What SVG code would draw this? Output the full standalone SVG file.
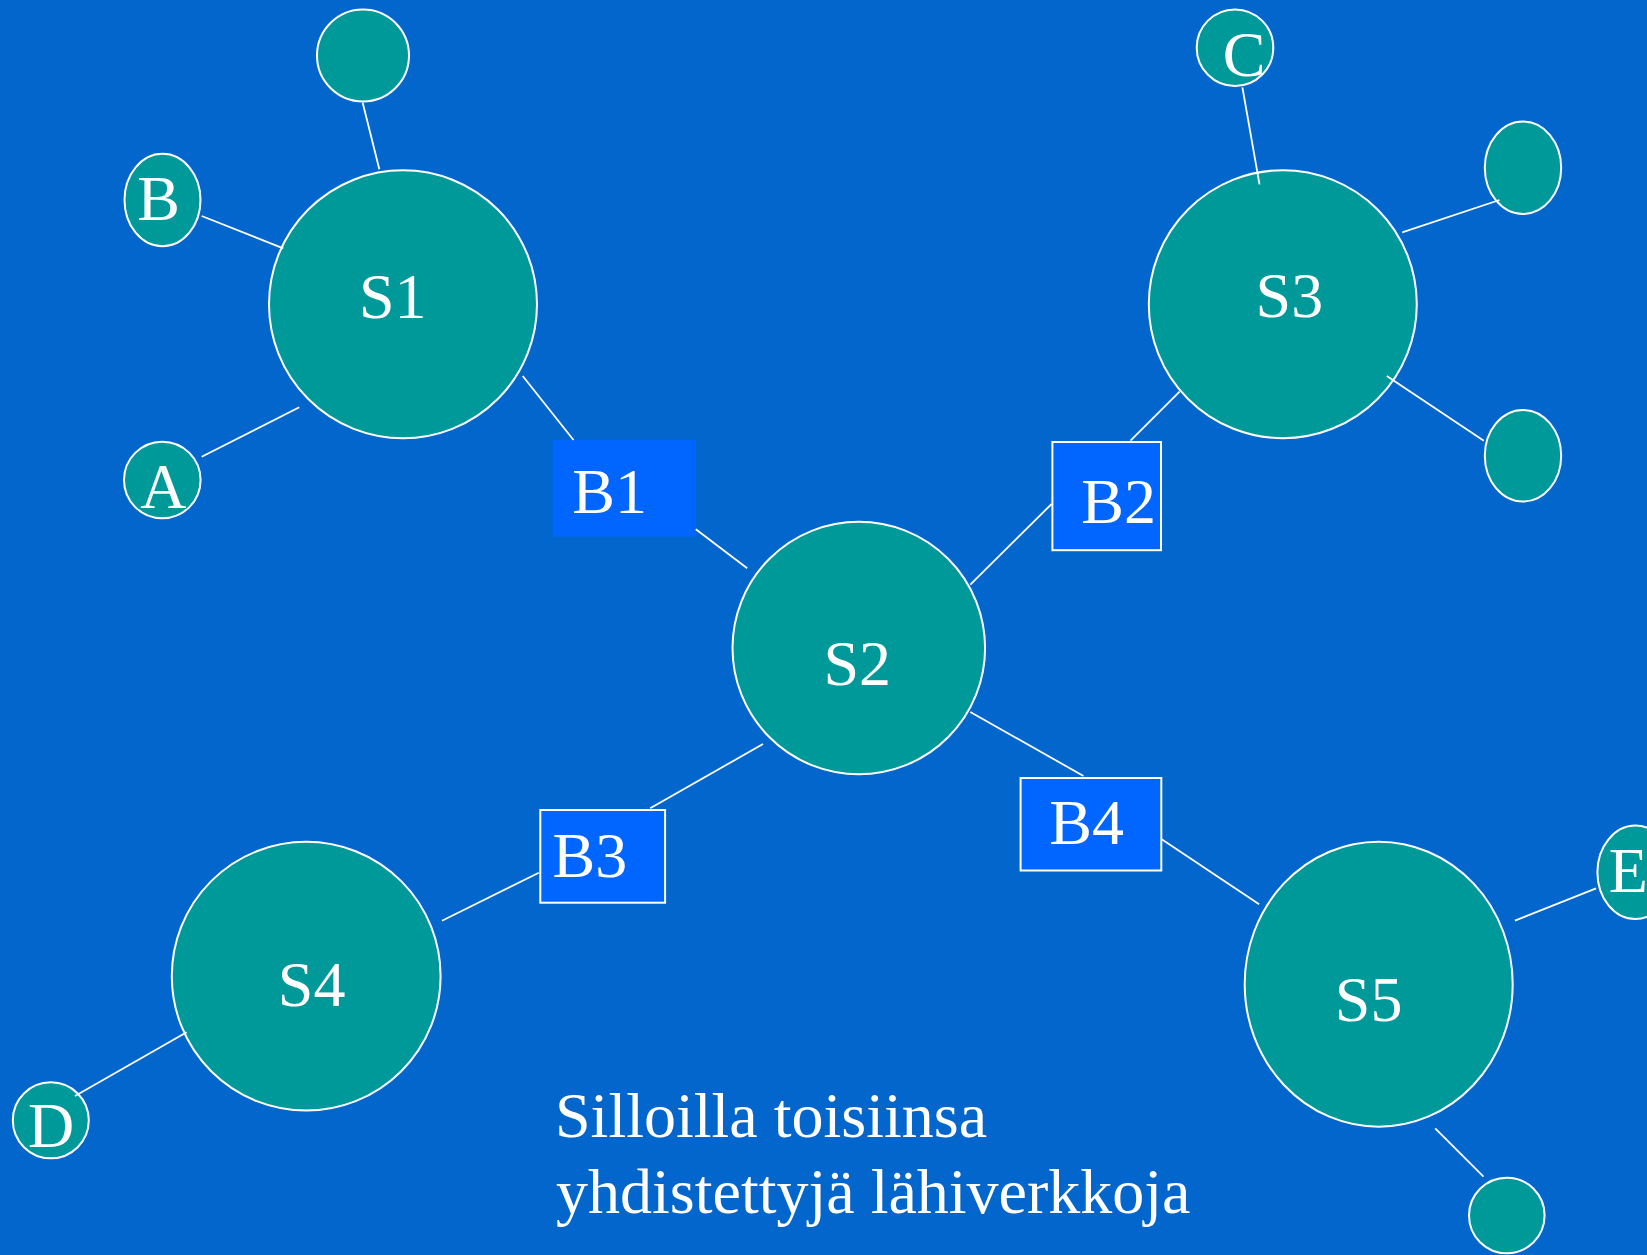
<svg xmlns="http://www.w3.org/2000/svg" width="1647" height="1255" viewBox="0 0 1647 1255">
  <style>
    .seg { fill: #009999; stroke: #ffffff; stroke-width: 2; }
    .host { fill: #009999; stroke: #ffffff; stroke-width: 2; }
    .bridge { fill: #0066ff; }
    .bridge.framed { stroke: #ffffff; stroke-width: 2; }
    .lbl { font-family: "Liberation Serif", "Times New Roman", serif; font-size: 64px; fill: #ffffff; }
    .wire { stroke: #ffffff; stroke-width: 1.8; fill: none; }
  </style>
  <rect x="0" y="0" width="1647" height="1255" fill="#0366cc"/>

  <!-- segments -->
  <g id="S1"><circle class="seg" cx="403" cy="304.3" r="134"/><text class="lbl" x="359" y="318">S1</text></g>
  <g id="S2"><circle class="seg" cx="858.8" cy="648" r="126.3"/><text class="lbl" x="823.5" y="685">S2</text></g>
  <g id="S3"><circle class="seg" cx="1282.8" cy="304.2" r="134"/><text class="lbl" x="1255.6" y="316.7">S3</text></g>
  <g id="S4"><circle class="seg" cx="306.2" cy="976.2" r="134.4"/><text class="lbl" x="277.8" y="1005.7">S4</text></g>
  <g id="S5"><ellipse class="seg" cx="1378.7" cy="984.2" rx="134" ry="142.5"/><text class="lbl" x="1334.8" y="1020.7">S5</text></g>

  <!-- bridges -->
  <g id="B1"><rect class="bridge" x="552.7" y="440" width="143.3" height="96.7"/><text class="lbl" x="572.3" y="512.5">B1</text></g>
  <g id="B2"><rect class="bridge framed" x="1052.4" y="442" width="108.6" height="108.2"/><text class="lbl" x="1081.2" y="523">B2</text></g>
  <g id="B3"><rect class="bridge framed" x="540.3" y="810" width="124.8" height="92.7"/><text class="lbl" x="552.5" y="876.7">B3</text></g>
  <g id="B4"><rect class="bridge framed" x="1020.6" y="778" width="140.7" height="92.5"/><text class="lbl" x="1049.2" y="844">B4</text></g>

  <!-- hosts -->
  <g id="host-S1-top"><circle class="host" cx="363" cy="55.5" r="46"/></g>
  <g id="B"><ellipse class="host" cx="162.5" cy="200" rx="38" ry="46.3"/><text class="lbl" x="137.2" y="220">B</text></g>
  <g id="A"><circle class="host" cx="162.3" cy="480" r="38.3"/><text class="lbl" x="140.2" y="508.3">A</text></g>
  <g id="C"><circle class="host" cx="1235" cy="47.7" r="38.3"/><text class="lbl" x="1222.8" y="76">C</text></g>
  <g id="host-S3-upper"><ellipse class="host" cx="1523" cy="167.8" rx="38.2" ry="46.2"/></g>
  <g id="host-S3-lower"><ellipse class="host" cx="1523" cy="455.8" rx="38.2" ry="45.8"/></g>
  <g id="D"><circle class="host" cx="50.8" cy="1120.3" r="38"/><text class="lbl" x="28" y="1146.5">D</text></g>
  <g id="E"><ellipse class="host" cx="1635.4" cy="872.3" rx="38" ry="46.7"/><text class="lbl" x="1608.8" y="891.7">E</text></g>
  <g id="host-S5-bottom"><circle class="host" cx="1506.8" cy="1215.5" r="37.8"/></g>

  <!-- connectors -->
  <g id="connectors">
    <line class="wire" x1="362.7" y1="102.7" x2="379.3" y2="169.3"/>
    <line class="wire" x1="201.7" y1="216" x2="283.3" y2="248.3"/>
    <line class="wire" x1="201.7" y1="456.7" x2="299.3" y2="407.3"/>
    <line class="wire" x1="522.7" y1="376" x2="573.5" y2="440"/>
    <line class="wire" x1="695.8" y1="529.3" x2="747.2" y2="568.3"/>
    <line class="wire" x1="970.3" y1="584.7" x2="1051.6" y2="504"/>
    <line class="wire" x1="1130.5" y1="440.7" x2="1179.6" y2="391.7"/>
    <line class="wire" x1="1242.4" y1="87.3" x2="1259.5" y2="184.3"/>
    <line class="wire" x1="1402.2" y1="232.3" x2="1499.5" y2="200"/>
    <line class="wire" x1="1386.8" y1="376" x2="1483.8" y2="440.7"/>
    <line class="wire" x1="763" y1="744" x2="650.2" y2="808.3"/>
    <line class="wire" x1="538.8" y1="872.7" x2="442" y2="920.7"/>
    <line class="wire" x1="75" y1="1096" x2="186.6" y2="1032.3"/>
    <line class="wire" x1="970.3" y1="712" x2="1083.5" y2="776"/>
    <line class="wire" x1="1161.7" y1="839.3" x2="1259.1" y2="904.3"/>
    <line class="wire" x1="1514.9" y1="920.7" x2="1596.1" y2="888.3"/>
    <line class="wire" x1="1435.2" y1="1128.3" x2="1483.5" y2="1176.7"/>
  </g>

  <!-- caption -->
  <text class="lbl" x="555" y="1137">Silloilla toisiinsa</text>
  <text class="lbl" x="556" y="1213">yhdistettyjä lähiverkkoja</text>
</svg>
